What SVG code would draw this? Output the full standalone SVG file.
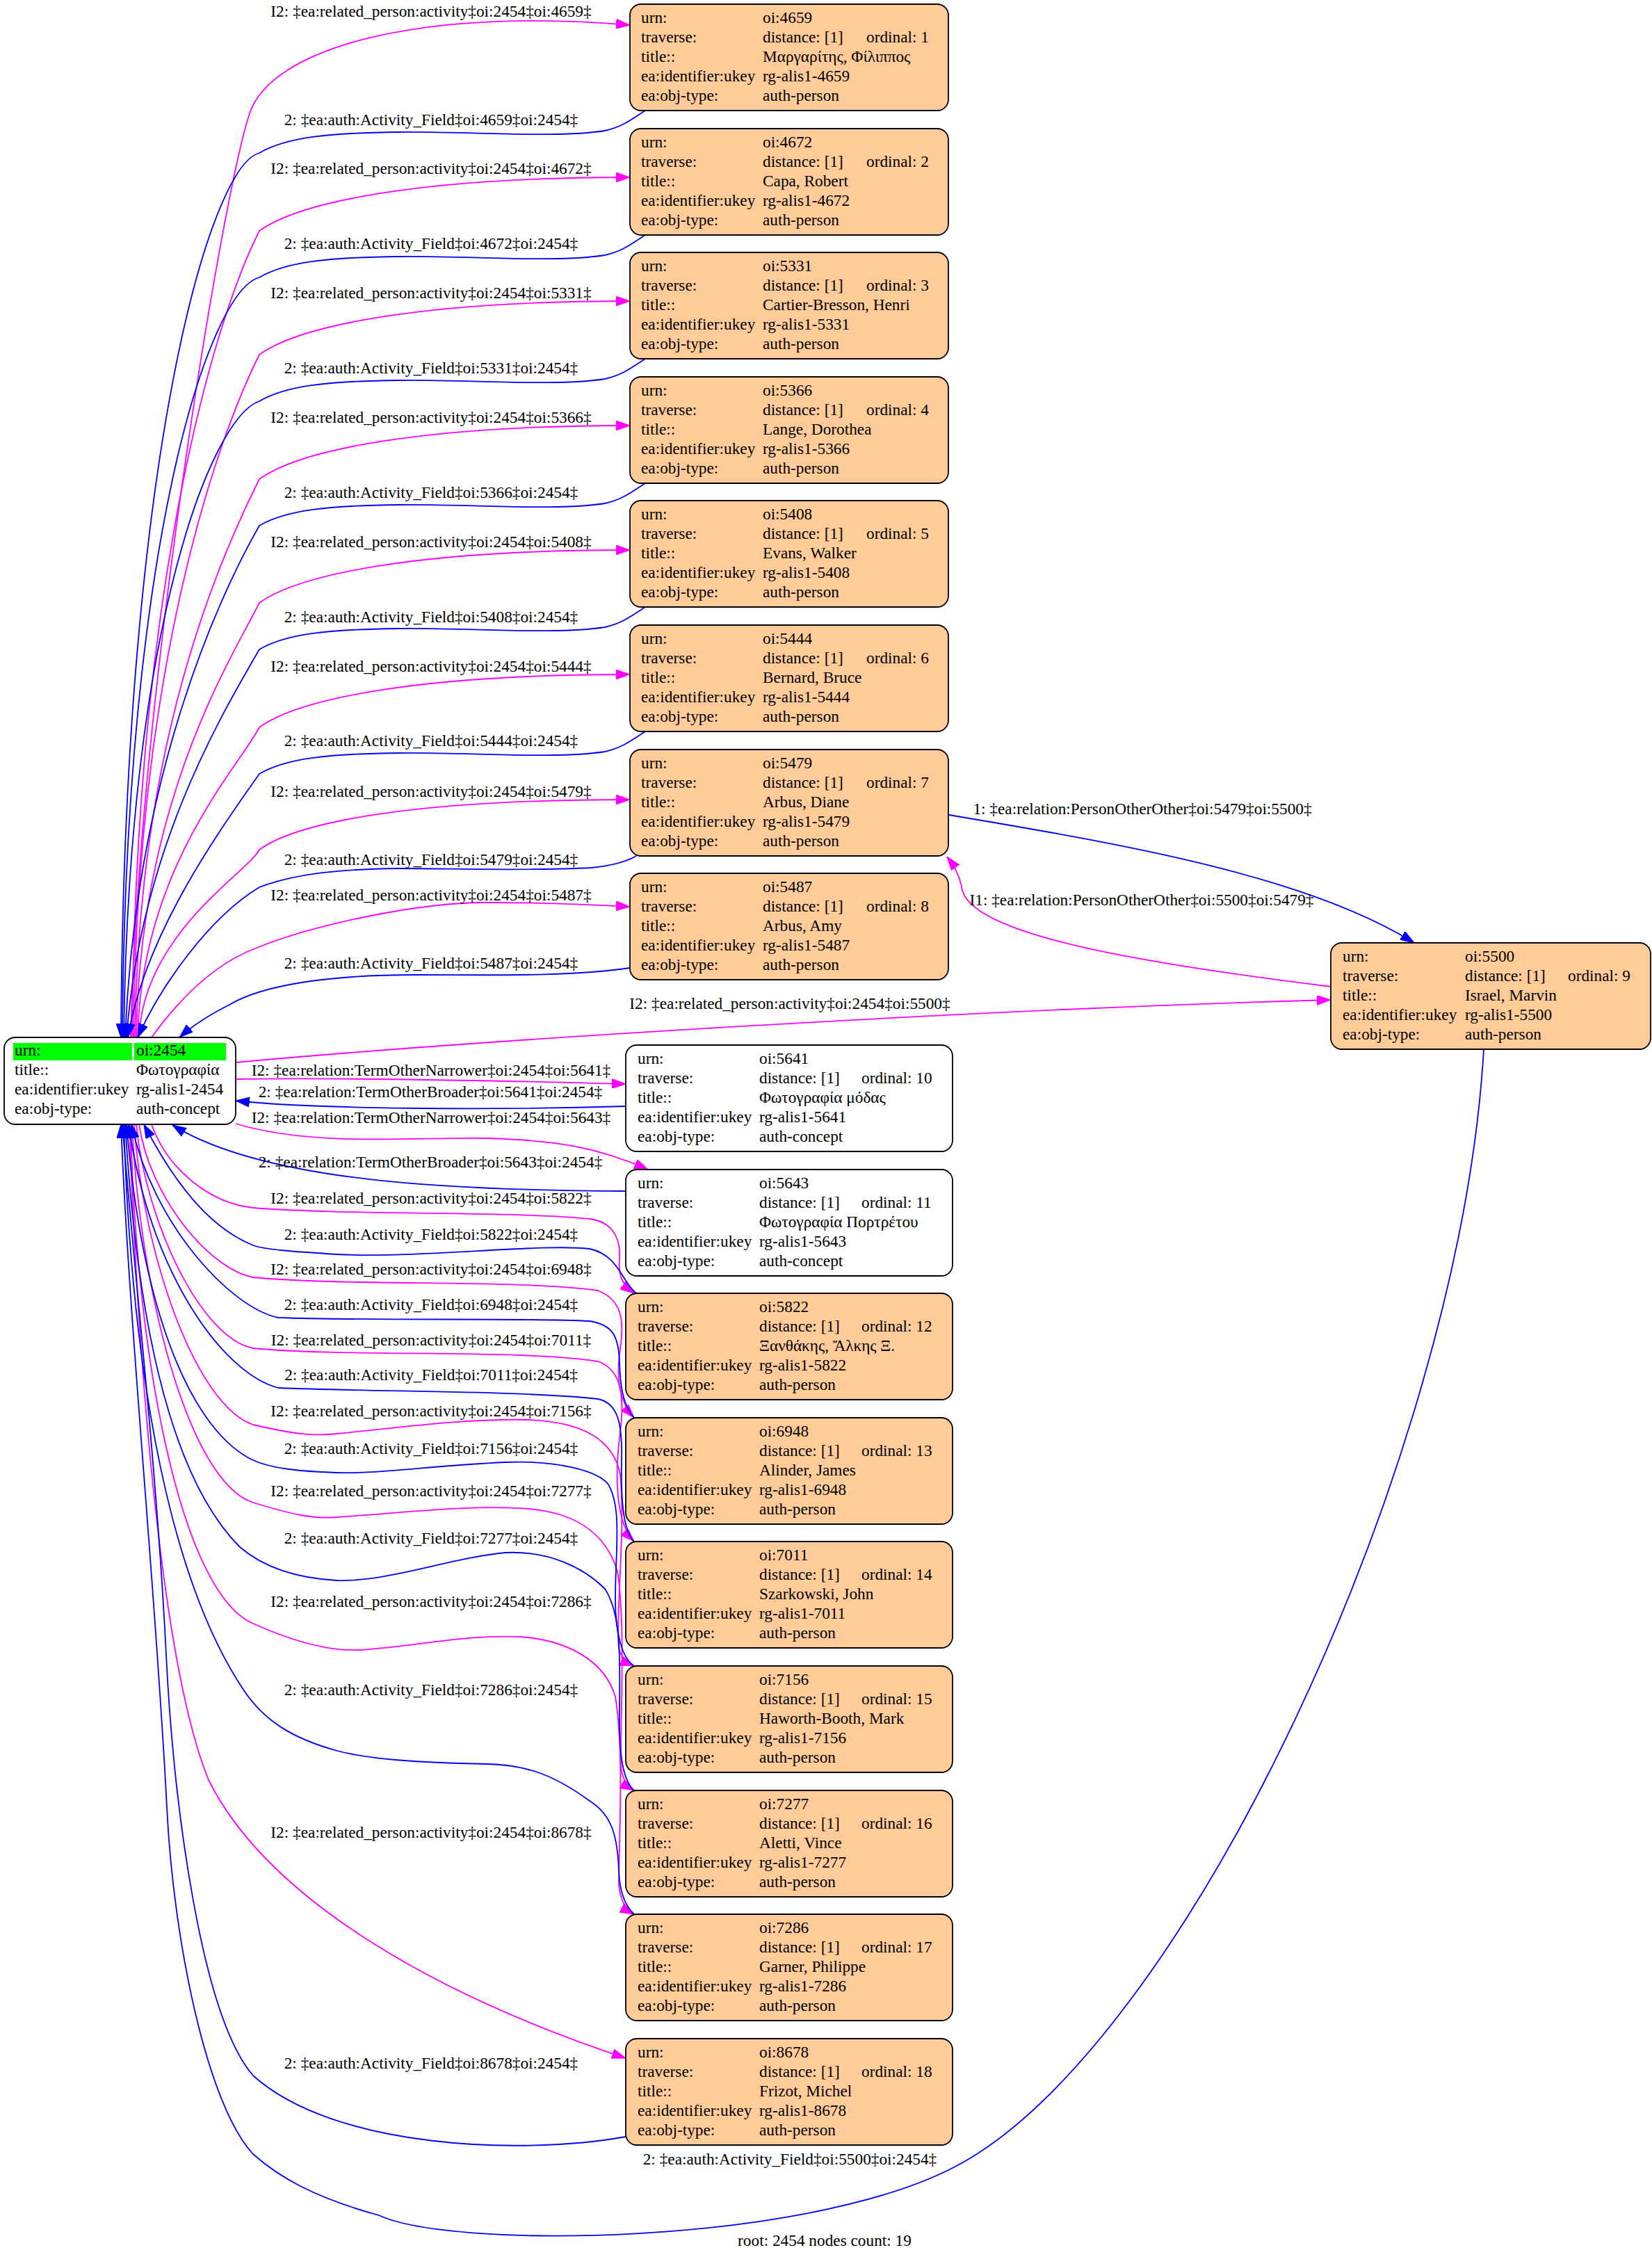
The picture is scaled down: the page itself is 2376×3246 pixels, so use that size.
<svg xmlns="http://www.w3.org/2000/svg" width="2376" height="3246" viewBox="0 0 2376 3246">
<style>
text{font-family:"Liberation Serif","Times New Roman",serif;font-size:23.3px;fill:#000}
.lbl{text-anchor:middle}
.box{stroke:#000;stroke-width:1.8}
.p{fill:#ffcc99}
.c{fill:#ffffff}
.em{fill:none;stroke:#ff00ff;stroke-width:1.8;marker-end:url(#am)}
.eb{fill:none;stroke:#0000ff;stroke-width:1.8;marker-end:url(#ab)}
</style>
<defs>
<marker id="am" viewBox="0 0 20 14" refX="20" refY="7" markerWidth="20" markerHeight="14" markerUnits="userSpaceOnUse" orient="auto"><path d="M0,0 L20,7 L0,14 z" fill="#ff00ff" stroke="#ff00ff" stroke-width="1"/></marker>
<marker id="ab" viewBox="0 0 20 14" refX="20" refY="7" markerWidth="20" markerHeight="14" markerUnits="userSpaceOnUse" orient="auto"><path d="M0,0 L20,7 L0,14 z" fill="#0000ff" stroke="#0000ff" stroke-width="1"/></marker>
</defs>
<rect width="2376" height="3246" fill="#fff"/>

<g id="edges">
<path class="em" d="M188,1492 C200,1000 320,280 359,163 C390,70 600,10 906,36"/>
<path class="em" d="M190,1492 C195,854 303,471 373,332 C430,291 600,255 906,255"/>
<path class="em" d="M192,1492 C197,952 314,628 373,510 C430,469 600,433 906,433"/>
<path class="em" d="M194,1492 C199,1050 325,785 373,689 C430,648 600,612 906,612"/>
<path class="em" d="M196,1492 C201,1148 336,942 373,867 C430,826 600,791 906,791"/>
<path class="em" d="M198,1492 C203,1247 346,1100 373,1046 C430,1005 600,970 906,970"/>
<path class="em" d="M200,1492 C205,1344 357,1254 373,1222 C430,1181 600,1150 906,1150"/>
<path class="em" d="M218,1492 C270,1420 320,1382 367,1364 C450,1330 600,1298 700,1298 C800,1298 870,1302 906,1304"/>

<path class="eb" d="M928,159 C905,174 895,182 870,188 C800,199 680,189 574,190 C470,191 410,198 373,220 C300,240 178,665 174,1492"/>
<path class="eb" d="M928,338 C905,353 895,361 870,367 C800,378 680,368 574,369 C470,370 410,377 373,399 C300,419 180,782 176,1492"/>
<path class="eb" d="M928,516 C905,531 895,539 870,545 C800,556 680,546 574,547 C470,548 410,555 373,577 C305,600 185,897 178,1492"/>
<path class="eb" d="M928,695 C905,710 895,718 870,724 C800,735 680,725 574,726 C470,727 410,734 373,756 C310,866 195,1124 180,1492"/>
<path class="eb" d="M928,873 C905,888 895,896 870,902 C800,913 680,903 574,904 C470,905 410,912 373,934 C315,1034 202,1224 182,1492"/>
<path class="eb" d="M928,1052 C905,1067 895,1075 870,1081 C800,1092 680,1082 574,1083 C470,1084 410,1091 373,1113 C320,1189 209,1340 184,1492"/>
<path class="eb" d="M915,1231 C900,1240 880,1245 850,1248 C750,1253 650,1249 574,1249 C480,1250 420,1258 373,1276 C300,1320 230,1420 198,1492"/>
<path class="eb" d="M906,1392 C820,1405 700,1402 600,1402 C480,1402 380,1415 330,1445 C300,1460 275,1477 258,1492"/>

<path class="eb" d="M1365,1172 C1620,1215 1880,1260 2034,1356"/>
<path class="em" d="M1914,1419 C1640,1385 1400,1345 1384,1280 C1380,1258 1372,1245 1362,1232"/>
<path class="em" d="M339,1528 C700,1495 1400,1452 1914,1438"/>

<path class="em" d="M339,1552 C500,1550 750,1555 900,1559"/>
<path class="eb" d="M900,1591 C700,1597 450,1595 339,1583"/>
<path class="em" d="M339,1616 C450,1650 600,1635 700,1637 C800,1640 860,1650 932,1682"/>
<path class="eb" d="M900,1713 C650,1712 380,1700 248,1618"/>

<path class="em" d="M218,1617 C240,1680 300,1730 364,1737 C500,1748 750,1742 848,1753 C880,1757 893,1780 891,1810 C889,1835 895,1848 912,1860"/>
<path class="em" d="M200,1617 C215,1720 300,1825 364,1837 C500,1850 750,1840 860,1856 C895,1870 898,1900 892,1940 C886,1980 890,2015 912,2039"/>
<path class="em" d="M196,1617 C210,1760 290,1925 364,1939 C500,1952 750,1940 860,1958 C895,1970 898,2010 892,2060 C884,2120 885,2190 912,2217"/>
<path class="em" d="M193,1617 C205,1800 280,2020 364,2049 C420,2062 450,2066 485,2062 C600,2050 680,2040 760,2042 C820,2044 880,2060 892,2120 C900,2200 885,2330 890,2370 C893,2385 902,2392 912,2396"/>
<path class="em" d="M190,1617 C200,1850 270,2130 364,2161 C420,2178 450,2185 485,2182 C600,2174 680,2164 760,2170 C820,2175 870,2200 888,2260 C900,2330 892,2480 893,2540 C895,2560 903,2570 912,2575"/>
<path class="em" d="M188,1617 C195,1950 260,2290 364,2335 C420,2360 470,2375 515,2373 C600,2368 680,2348 760,2355 C820,2362 870,2390 885,2440 C898,2520 890,2650 890,2710 C892,2735 902,2748 912,2753"/>
<path class="em" d="M186,1617 C200,2000 235,2400 300,2560 C380,2720 600,2860 900,2960"/>

<path class="eb" d="M915,1860 C895,1845 890,1805 848,1796 C780,1788 600,1810 485,1804 C420,1800 380,1797 364,1791 C300,1765 250,1700 207,1617"/>
<path class="eb" d="M912,2039 C895,2020 892,1990 891,1960 C890,1920 880,1905 848,1900 C750,1895 550,1900 400,1895 C330,1880 220,1760 189,1617"/>
<path class="eb" d="M912,2217 C895,2200 893,2150 894,2100 C895,2050 890,2018 860,2012 C750,2000 550,2002 400,1996 C320,1975 215,1830 185,1617"/>
<path class="eb" d="M912,2396 C895,2385 885,2350 885,2300 C885,2230 895,2170 875,2135 C860,2115 800,2100 727,2103 C620,2108 540,2120 485,2118 C430,2116 390,2112 364,2100 C280,2060 205,1900 182,1617"/>
<path class="eb" d="M912,2575 C895,2560 890,2520 891,2460 C892,2380 893,2320 870,2285 C840,2255 790,2230 727,2233 C650,2240 560,2275 485,2273 C430,2270 380,2255 345,2225 C260,2140 200,1950 180,1617"/>
<path class="eb" d="M912,2753 C898,2740 891,2720 890,2690 C888,2640 880,2610 848,2590 C800,2555 760,2538 700,2537 C600,2535 530,2530 485,2518 C420,2500 380,2475 350,2430 C250,2280 190,2000 178,1617"/>
<path class="eb" d="M900,3073 C750,3100 480,3090 364,2985 C290,2900 250,2600 239,2380 C225,2100 190,1800 176,1617"/>
<path class="eb" d="M2134,1509 C2100,2100 1700,2950 1370,3118 C1150,3230 650,3235 545,3186 C450,3160 400,3130 364,3098 C300,3030 250,2800 240,2600 C225,2300 185,1900 174,1617"/>

<g class="lbl">
<text x="620" y="24">I2: ‡ea:related_person:activity‡oi:2454‡oi:4659‡</text>
<text x="620" y="180">2: ‡ea:auth:Activity_Field‡oi:4659‡oi:2454‡</text>
<text x="620" y="250">I2: ‡ea:related_person:activity‡oi:2454‡oi:4672‡</text>
<text x="620" y="358">2: ‡ea:auth:Activity_Field‡oi:4672‡oi:2454‡</text>
<text x="620" y="429">I2: ‡ea:related_person:activity‡oi:2454‡oi:5331‡</text>
<text x="620" y="537">2: ‡ea:auth:Activity_Field‡oi:5331‡oi:2454‡</text>
<text x="620" y="608">I2: ‡ea:related_person:activity‡oi:2454‡oi:5366‡</text>
<text x="620" y="716">2: ‡ea:auth:Activity_Field‡oi:5366‡oi:2454‡</text>
<text x="620" y="787">I2: ‡ea:related_person:activity‡oi:2454‡oi:5408‡</text>
<text x="620" y="895">2: ‡ea:auth:Activity_Field‡oi:5408‡oi:2454‡</text>
<text x="620" y="966">I2: ‡ea:related_person:activity‡oi:2454‡oi:5444‡</text>
<text x="620" y="1073">2: ‡ea:auth:Activity_Field‡oi:5444‡oi:2454‡</text>
<text x="620" y="1146">I2: ‡ea:related_person:activity‡oi:2454‡oi:5479‡</text>
<text x="620" y="1244">2: ‡ea:auth:Activity_Field‡oi:5479‡oi:2454‡</text>
<text x="620" y="1295">I2: ‡ea:related_person:activity‡oi:2454‡oi:5487‡</text>
<text x="620" y="1393">2: ‡ea:auth:Activity_Field‡oi:5487‡oi:2454‡</text>
<text x="1136" y="1451">I2: ‡ea:related_person:activity‡oi:2454‡oi:5500‡</text>
<text x="1643" y="1171">1: ‡ea:relation:PersonOtherOther‡oi:5479‡oi:5500‡</text>
<text x="1642" y="1302">I1: ‡ea:relation:PersonOtherOther‡oi:5500‡oi:5479‡</text>
<text x="620" y="1547">I2: ‡ea:relation:TermOtherNarrower‡oi:2454‡oi:5641‡</text>
<text x="619" y="1578">2: ‡ea:relation:TermOtherBroader‡oi:5641‡oi:2454‡</text>
<text x="620" y="1615">I2: ‡ea:relation:TermOtherNarrower‡oi:2454‡oi:5643‡</text>
<text x="619" y="1679">2: ‡ea:relation:TermOtherBroader‡oi:5643‡oi:2454‡</text>
<text x="620" y="1731">I2: ‡ea:related_person:activity‡oi:2454‡oi:5822‡</text>
<text x="620" y="1783">2: ‡ea:auth:Activity_Field‡oi:5822‡oi:2454‡</text>
<text x="620" y="1833">I2: ‡ea:related_person:activity‡oi:2454‡oi:6948‡</text>
<text x="620" y="1884">2: ‡ea:auth:Activity_Field‡oi:6948‡oi:2454‡</text>
<text x="620" y="1935">I2: ‡ea:related_person:activity‡oi:2454‡oi:7011‡</text>
<text x="620" y="1985">2: ‡ea:auth:Activity_Field‡oi:7011‡oi:2454‡</text>
<text x="620" y="2037">I2: ‡ea:related_person:activity‡oi:2454‡oi:7156‡</text>
<text x="620" y="2091">2: ‡ea:auth:Activity_Field‡oi:7156‡oi:2454‡</text>
<text x="620" y="2152">I2: ‡ea:related_person:activity‡oi:2454‡oi:7277‡</text>
<text x="620" y="2220">2: ‡ea:auth:Activity_Field‡oi:7277‡oi:2454‡</text>
<text x="620" y="2311">I2: ‡ea:related_person:activity‡oi:2454‡oi:7286‡</text>
<text x="620" y="2438">2: ‡ea:auth:Activity_Field‡oi:7286‡oi:2454‡</text>
<text x="620" y="2643">I2: ‡ea:related_person:activity‡oi:2454‡oi:8678‡</text>
<text x="620" y="2975">2: ‡ea:auth:Activity_Field‡oi:8678‡oi:2454‡</text>
<text x="1136" y="3113">2: ‡ea:auth:Activity_Field‡oi:5500‡oi:2454‡</text>
</g>
</g>

<g id="n2454" transform="translate(6,1492)">
<rect class="box c" x="0" y="0" width="333" height="125" rx="16"/>
<rect x="13" y="8" width="171" height="25" fill="#00ff00"/>
<rect x="187" y="8" width="132" height="25" fill="#00ff00"/>
<text x="15" y="26">urn:</text><text x="190" y="26">oi:2454</text>
<text x="15" y="54">title::</text><text x="190" y="54">Φωτογραφία</text>
<text x="15" y="82">ea:identifier:ukey</text><text x="190" y="82">rg-alis1-2454</text>
<text x="15" y="110">ea:obj-type:</text><text x="190" y="110">auth-concept</text>
</g>

<g id="n4659" transform="translate(906,6)">
<rect class="box p" width="458" height="153" rx="16"/>
<text x="16" y="27">urn:</text><text x="191" y="27">oi:4659</text>
<text x="16" y="55">traverse:</text><text x="191" y="55">distance: [1]</text><text x="340" y="55">ordinal: 1</text>
<text x="16" y="83">title::</text><text x="191" y="83">Μαργαρίτης, Φίλιππος</text>
<text x="16" y="111">ea:identifier:ukey</text><text x="191" y="111">rg-alis1-4659</text>
<text x="16" y="139">ea:obj-type:</text><text x="191" y="139">auth-person</text>
</g>
<g id="n4672" transform="translate(906,185)">
<rect class="box p" width="458" height="153" rx="16"/>
<text x="16" y="27">urn:</text><text x="191" y="27">oi:4672</text>
<text x="16" y="55">traverse:</text><text x="191" y="55">distance: [1]</text><text x="340" y="55">ordinal: 2</text>
<text x="16" y="83">title::</text><text x="191" y="83">Capa, Robert</text>
<text x="16" y="111">ea:identifier:ukey</text><text x="191" y="111">rg-alis1-4672</text>
<text x="16" y="139">ea:obj-type:</text><text x="191" y="139">auth-person</text>
</g>
<g id="n5331" transform="translate(906,363)">
<rect class="box p" width="458" height="153" rx="16"/>
<text x="16" y="27">urn:</text><text x="191" y="27">oi:5331</text>
<text x="16" y="55">traverse:</text><text x="191" y="55">distance: [1]</text><text x="340" y="55">ordinal: 3</text>
<text x="16" y="83">title::</text><text x="191" y="83">Cartier-Bresson, Henri</text>
<text x="16" y="111">ea:identifier:ukey</text><text x="191" y="111">rg-alis1-5331</text>
<text x="16" y="139">ea:obj-type:</text><text x="191" y="139">auth-person</text>
</g>
<g id="n5366" transform="translate(906,542)">
<rect class="box p" width="458" height="153" rx="16"/>
<text x="16" y="27">urn:</text><text x="191" y="27">oi:5366</text>
<text x="16" y="55">traverse:</text><text x="191" y="55">distance: [1]</text><text x="340" y="55">ordinal: 4</text>
<text x="16" y="83">title::</text><text x="191" y="83">Lange, Dorothea</text>
<text x="16" y="111">ea:identifier:ukey</text><text x="191" y="111">rg-alis1-5366</text>
<text x="16" y="139">ea:obj-type:</text><text x="191" y="139">auth-person</text>
</g>
<g id="n5408" transform="translate(906,720)">
<rect class="box p" width="458" height="153" rx="16"/>
<text x="16" y="27">urn:</text><text x="191" y="27">oi:5408</text>
<text x="16" y="55">traverse:</text><text x="191" y="55">distance: [1]</text><text x="340" y="55">ordinal: 5</text>
<text x="16" y="83">title::</text><text x="191" y="83">Evans, Walker</text>
<text x="16" y="111">ea:identifier:ukey</text><text x="191" y="111">rg-alis1-5408</text>
<text x="16" y="139">ea:obj-type:</text><text x="191" y="139">auth-person</text>
</g>
<g id="n5444" transform="translate(906,899)">
<rect class="box p" width="458" height="153" rx="16"/>
<text x="16" y="27">urn:</text><text x="191" y="27">oi:5444</text>
<text x="16" y="55">traverse:</text><text x="191" y="55">distance: [1]</text><text x="340" y="55">ordinal: 6</text>
<text x="16" y="83">title::</text><text x="191" y="83">Bernard, Bruce</text>
<text x="16" y="111">ea:identifier:ukey</text><text x="191" y="111">rg-alis1-5444</text>
<text x="16" y="139">ea:obj-type:</text><text x="191" y="139">auth-person</text>
</g>
<g id="n5479" transform="translate(906,1078)">
<rect class="box p" width="458" height="153" rx="16"/>
<text x="16" y="27">urn:</text><text x="191" y="27">oi:5479</text>
<text x="16" y="55">traverse:</text><text x="191" y="55">distance: [1]</text><text x="340" y="55">ordinal: 7</text>
<text x="16" y="83">title::</text><text x="191" y="83">Arbus, Diane</text>
<text x="16" y="111">ea:identifier:ukey</text><text x="191" y="111">rg-alis1-5479</text>
<text x="16" y="139">ea:obj-type:</text><text x="191" y="139">auth-person</text>
</g>
<g id="n5487" transform="translate(906,1256)">
<rect class="box p" width="458" height="153" rx="16"/>
<text x="16" y="27">urn:</text><text x="191" y="27">oi:5487</text>
<text x="16" y="55">traverse:</text><text x="191" y="55">distance: [1]</text><text x="340" y="55">ordinal: 8</text>
<text x="16" y="83">title::</text><text x="191" y="83">Arbus, Amy</text>
<text x="16" y="111">ea:identifier:ukey</text><text x="191" y="111">rg-alis1-5487</text>
<text x="16" y="139">ea:obj-type:</text><text x="191" y="139">auth-person</text>
</g>
<g id="n5500" transform="translate(1914,1356)">
<rect class="box p" width="460" height="153" rx="16"/>
<text x="17" y="27">urn:</text><text x="193" y="27">oi:5500</text>
<text x="17" y="55">traverse:</text><text x="193" y="55">distance: [1]</text><text x="341" y="55">ordinal: 9</text>
<text x="17" y="83">title::</text><text x="193" y="83">Israel, Marvin</text>
<text x="17" y="111">ea:identifier:ukey</text><text x="193" y="111">rg-alis1-5500</text>
<text x="17" y="139">ea:obj-type:</text><text x="193" y="139">auth-person</text>
</g>
<g id="n5641" transform="translate(900,1503)">
<rect class="box c" width="470" height="153" rx="16"/>
<text x="17" y="27">urn:</text><text x="192" y="27">oi:5641</text>
<text x="17" y="55">traverse:</text><text x="192" y="55">distance: [1]</text><text x="339" y="55">ordinal: 10</text>
<text x="17" y="83">title::</text><text x="192" y="83">Φωτογραφία μόδας</text>
<text x="17" y="111">ea:identifier:ukey</text><text x="192" y="111">rg-alis1-5641</text>
<text x="17" y="139">ea:obj-type:</text><text x="192" y="139">auth-concept</text>
</g>
<g id="n5643" transform="translate(900,1682)">
<rect class="box c" width="470" height="153" rx="16"/>
<text x="17" y="27">urn:</text><text x="192" y="27">oi:5643</text>
<text x="17" y="55">traverse:</text><text x="192" y="55">distance: [1]</text><text x="339" y="55">ordinal: 11</text>
<text x="17" y="83">title::</text><text x="192" y="83">Φωτογραφία Πορτρέτου</text>
<text x="17" y="111">ea:identifier:ukey</text><text x="192" y="111">rg-alis1-5643</text>
<text x="17" y="139">ea:obj-type:</text><text x="192" y="139">auth-concept</text>
</g>
<g id="n5822" transform="translate(900,1860)">
<rect class="box p" width="470" height="153" rx="16"/>
<text x="17" y="27">urn:</text><text x="192" y="27">oi:5822</text>
<text x="17" y="55">traverse:</text><text x="192" y="55">distance: [1]</text><text x="339" y="55">ordinal: 12</text>
<text x="17" y="83">title::</text><text x="192" y="83">Ξανθάκης, Ἄλκης Ξ.</text>
<text x="17" y="111">ea:identifier:ukey</text><text x="192" y="111">rg-alis1-5822</text>
<text x="17" y="139">ea:obj-type:</text><text x="192" y="139">auth-person</text>
</g>
<g id="n6948" transform="translate(900,2039)">
<rect class="box p" width="470" height="153" rx="16"/>
<text x="17" y="27">urn:</text><text x="192" y="27">oi:6948</text>
<text x="17" y="55">traverse:</text><text x="192" y="55">distance: [1]</text><text x="339" y="55">ordinal: 13</text>
<text x="17" y="83">title::</text><text x="192" y="83">Alinder, James</text>
<text x="17" y="111">ea:identifier:ukey</text><text x="192" y="111">rg-alis1-6948</text>
<text x="17" y="139">ea:obj-type:</text><text x="192" y="139">auth-person</text>
</g>
<g id="n7011" transform="translate(900,2217)">
<rect class="box p" width="470" height="153" rx="16"/>
<text x="17" y="27">urn:</text><text x="192" y="27">oi:7011</text>
<text x="17" y="55">traverse:</text><text x="192" y="55">distance: [1]</text><text x="339" y="55">ordinal: 14</text>
<text x="17" y="83">title::</text><text x="192" y="83">Szarkowski, John</text>
<text x="17" y="111">ea:identifier:ukey</text><text x="192" y="111">rg-alis1-7011</text>
<text x="17" y="139">ea:obj-type:</text><text x="192" y="139">auth-person</text>
</g>
<g id="n7156" transform="translate(900,2396)">
<rect class="box p" width="470" height="153" rx="16"/>
<text x="17" y="27">urn:</text><text x="192" y="27">oi:7156</text>
<text x="17" y="55">traverse:</text><text x="192" y="55">distance: [1]</text><text x="339" y="55">ordinal: 15</text>
<text x="17" y="83">title::</text><text x="192" y="83">Haworth-Booth, Mark</text>
<text x="17" y="111">ea:identifier:ukey</text><text x="192" y="111">rg-alis1-7156</text>
<text x="17" y="139">ea:obj-type:</text><text x="192" y="139">auth-person</text>
</g>
<g id="n7277" transform="translate(900,2575)">
<rect class="box p" width="470" height="153" rx="16"/>
<text x="17" y="27">urn:</text><text x="192" y="27">oi:7277</text>
<text x="17" y="55">traverse:</text><text x="192" y="55">distance: [1]</text><text x="339" y="55">ordinal: 16</text>
<text x="17" y="83">title::</text><text x="192" y="83">Aletti, Vince</text>
<text x="17" y="111">ea:identifier:ukey</text><text x="192" y="111">rg-alis1-7277</text>
<text x="17" y="139">ea:obj-type:</text><text x="192" y="139">auth-person</text>
</g>
<g id="n7286" transform="translate(900,2753)">
<rect class="box p" width="470" height="153" rx="16"/>
<text x="17" y="27">urn:</text><text x="192" y="27">oi:7286</text>
<text x="17" y="55">traverse:</text><text x="192" y="55">distance: [1]</text><text x="339" y="55">ordinal: 17</text>
<text x="17" y="83">title::</text><text x="192" y="83">Garner, Philippe</text>
<text x="17" y="111">ea:identifier:ukey</text><text x="192" y="111">rg-alis1-7286</text>
<text x="17" y="139">ea:obj-type:</text><text x="192" y="139">auth-person</text>
</g>
<g id="n8678" transform="translate(900,2932)">
<rect class="box p" width="470" height="153" rx="16"/>
<text x="17" y="27">urn:</text><text x="192" y="27">oi:8678</text>
<text x="17" y="55">traverse:</text><text x="192" y="55">distance: [1]</text><text x="339" y="55">ordinal: 18</text>
<text x="17" y="83">title::</text><text x="192" y="83">Frizot, Michel</text>
<text x="17" y="111">ea:identifier:ukey</text><text x="192" y="111">rg-alis1-8678</text>
<text x="17" y="139">ea:obj-type:</text><text x="192" y="139">auth-person</text>
</g>

<text x="1186" y="3230" text-anchor="middle">root: 2454 nodes count: 19</text>
</svg>
